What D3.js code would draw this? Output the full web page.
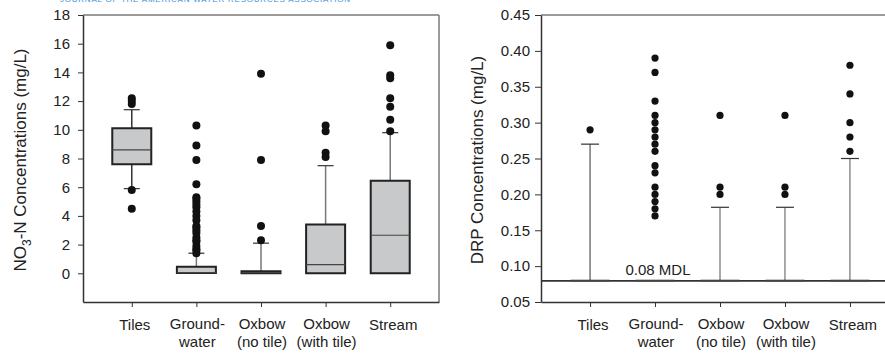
<!DOCTYPE html>
<html>
<head>
<meta charset="utf-8">
<script src="https://cdn.jsdelivr.net/npm/d3@7"></script>
<style>
  body { margin: 0; background: #fff; }
  svg { display: block; font-family: "Liberation Sans", Arial, sans-serif; }
</style>
</head>
<body>
<div class="chart"></div>
<script>
// category labels (shared by both panels)
var categories = [["Tiles"], ["Ground-", "water"], ["Oxbow", "(no tile)"], ["Oxbow", "(with tile)"], ["Stream"]];

// NO3-N panel (mg/L)
var no3Ticks = [0, 2, 4, 6, 8, 10, 12, 14, 16, 18];
var no3Low = [5.9, 0, 0, 0, 0];
var no3Q1 = [7.6, 0.02, 0, 0, 0];
var no3Median = [8.6, 0.05, 0.05, 0.6, 2.65];
var no3Q3 = [10.1, 0.45, 0.15, 3.4, 6.45];
var no3High = [11.4, 1.4, 2.1, 7.5, 9.8];
var no3Outliers = [
    [12.2, 12.0, 11.8, 5.8, 4.5],
    [10.3, 8.9, 7.9, 6.2, 5.3, 5.2, 5.0, 4.8, 4.6, 4.3, 4.0, 3.7, 3.3, 3.2, 3.0, 2.8, 2.5, 2.3, 2.2, 1.9, 1.7, 1.6, 1.4],
    [13.9, 7.9, 3.3, 2.3],
    [10.3, 9.9, 8.4, 8.1],
    [15.9, 13.8, 13.6, 12.2, 11.6, 10.7, 9.9]
];

// DRP panel (mg/L)
var drpTicks = [0.05, 0.10, 0.15, 0.20, 0.25, 0.30, 0.35, 0.40, 0.45];
var drpMDL = 0.0795;
var drpLow = [0.08, 0.08, 0.08, 0.08, 0.08];
var drpQ1 = [0.08, 0.08, 0.08, 0.08, 0.08];
var drpMedian = [0.08, 0.08, 0.08, 0.08, 0.08];
var drpQ3 = [0.08, 0.08, 0.08, 0.08, 0.08];
var drpHigh = [0.27, 0.08, 0.182, 0.182, 0.25];
var drpOutliers = [
    [0.29],
    [0.39, 0.37, 0.33, 0.31, 0.30, 0.29, 0.28, 0.27, 0.26, 0.24, 0.23, 0.21, 0.20, 0.19, 0.18, 0.17],
    [0.31, 0.21, 0.20],
    [0.31, 0.21, 0.20],
    [0.38, 0.34, 0.30, 0.28, 0.26]
];

var W = 885, H = 354;

var svg = d3.select(".chart")
    .append("svg")
    .attr("width", W)
    .attr("height", H);

// journal header, cut off by the page edge as in the scan
svg.append("text")
    .attr("x", 60)
    .attr("y", 2)
    .attr("textLength", 290)
    .attr("font-size", 8)
    .attr("fill", "#3d8fd6")
    .text("JOURNAL OF THE AMERICAN WATER RESOURCES ASSOCIATION");

function drawPanel(opt) {
    var g = svg.append("g");

    var x = d3.scalePoint()
        .domain(d3.range(categories.length))
        .range([opt.left, opt.right])
        .padding(0.755);

    var y = d3.scaleLinear()
        .domain(opt.domain)
        .range([opt.bottom, opt.top]);

    // top and right frame lines
    g.append("line")
        .attr("x1", opt.left).attr("x2", opt.right)
        .attr("y1", opt.top).attr("y2", opt.top)
        .attr("stroke", "#7a7a7a").attr("stroke-width", 1.5);
    g.append("line")
        .attr("x1", opt.right).attr("x2", opt.right)
        .attr("y1", opt.top).attr("y2", opt.bottom)
        .attr("stroke", "#7a7a7a").attr("stroke-width", 1.5);

    // y axis
    var ya = g.append("g")
        .attr("transform", "translate(" + opt.left + ",0)")
        .call(d3.axisLeft(y)
            .tickValues(opt.ticks)
            .tickFormat(opt.fmt)
            .tickSize(opt.tickSize)
            .tickSizeOuter(0)
            .tickPadding(opt.tickPad));
    ya.select(".domain").attr("stroke", "#333").attr("stroke-width", 1.5);
    ya.selectAll(".tick line").attr("stroke", "#333");
    ya.selectAll(".tick text")
        .attr("font-size", 15)
        .attr("font-family", "Liberation Sans, Arial, sans-serif")
        .attr("fill", "#222");

    // x axis
    var xa = g.append("g")
        .attr("transform", "translate(0," + opt.bottom + ")")
        .call(d3.axisBottom(x).tickSize(5).tickSizeOuter(0).tickFormat(""));
    xa.select(".domain").attr("stroke", "#333").attr("stroke-width", 1.5);
    xa.selectAll(".tick line").attr("stroke", "#333");

    categories.forEach(function (lines, i) {
        var t = g.append("text")
            .attr("text-anchor", "middle")
            .attr("font-size", 15)
            .attr("fill", "#222");
        lines.forEach(function (s, j) {
            t.append("tspan")
                .attr("x", x(i) + (lines.length === 1 ? 3 : 1))
                .attr("y", (lines.length === 1 ? 330 : 329) + j * 18)
                .text(s);
        });
    });

    // y title
    var title = g.append("text")
        .attr("transform", "translate(" + opt.titleX + "," + opt.titleY + ") rotate(-90)")
        .attr("text-anchor", "middle")
        .attr("font-size", 17)
        .attr("fill", "#222");
    opt.title.forEach(function (p) {
        var ts = title.append("tspan").text(p.t);
        if (p.sub) ts.attr("font-size", 12).attr("dy", 5);
        if (p.up) ts.attr("dy", -5);
    });

    if (opt.extra) opt.extra(g, x, y);

    // whiskers
    var half = opt.boxW / 2, cap = opt.capW / 2;
    var boxes = g.selectAll(".box")
        .data(d3.range(categories.length))
        .enter().append("g")
        .attr("class", "box");

    boxes.filter(function (i) { return opt.high[i] > opt.q3[i]; })
        .append("line")
        .attr("x1", function (i) { return x(i); })
        .attr("x2", function (i) { return x(i); })
        .attr("y1", function (i) { return y(opt.q3[i]); })
        .attr("y2", function (i) { return y(opt.high[i]); })
        .attr("stroke", function (i) { return i === 0 ? "#333" : opt.whiskerColor; })
        .attr("stroke-width", opt.whiskerW);
    boxes.filter(function (i) { return opt.high[i] > opt.q3[i]; })
        .append("line")
        .attr("x1", function (i) { return x(i) - cap; })
        .attr("x2", function (i) { return x(i) + cap; })
        .attr("y1", function (i) { return y(opt.high[i]); })
        .attr("y2", function (i) { return y(opt.high[i]); })
        .attr("stroke", "#333")
        .attr("stroke-width", 1.2);
    boxes.filter(function (i) { return opt.low[i] < opt.q1[i]; })
        .append("line")
        .attr("x1", function (i) { return x(i); })
        .attr("x2", function (i) { return x(i); })
        .attr("y1", function (i) { return y(opt.q1[i]); })
        .attr("y2", function (i) { return y(opt.low[i]); })
        .attr("stroke", "#333")
        .attr("stroke-width", opt.whiskerW);
    boxes.filter(function (i) { return opt.low[i] < opt.q1[i]; })
        .append("line")
        .attr("x1", function (i) { return x(i) - cap; })
        .attr("x2", function (i) { return x(i) + cap; })
        .attr("y1", function (i) { return y(opt.low[i]); })
        .attr("y2", function (i) { return y(opt.low[i]); })
        .attr("stroke", "#333")
        .attr("stroke-width", 1.2);

    // boxes (path so that a collapsed box still shows as a line)
    boxes.append("path")
        .attr("d", function (i) {
            var x0 = x(i) - half, x1 = x(i) + half;
            return "M" + x0 + "," + y(opt.q3[i]) + "H" + x1 + "V" + y(opt.q1[i]) + "H" + x0 + "Z";
        })
        .attr("fill", "#c8c9ca")
        .attr("stroke", "#222")
        .attr("stroke-width", opt.boxStroke);
    boxes.append("line")
        .attr("x1", function (i) { return x(i) - half; })
        .attr("x2", function (i) { return x(i) + half; })
        .attr("y1", function (i) { return y(opt.median[i]); })
        .attr("y2", function (i) { return y(opt.median[i]); })
        .attr("stroke", "#444")
        .attr("stroke-width", 1.2);

    // outliers
    boxes.selectAll("circle")
        .data(function (i) { return opt.outliers[i].map(function (v) { return { i: i, v: v }; }); })
        .enter().append("circle")
        .attr("cx", function (d) { return x(d.i); })
        .attr("cy", function (d) { return y(d.v); })
        .attr("r", opt.r)
        .attr("fill", "#111");
}

drawPanel({
    left: 83, right: 439, top: 15, bottom: 302,
    domain: [-2, 18], ticks: no3Ticks, fmt: d3.format("d"),
    tickSize: 5, tickPad: 8,
    low: no3Low, q1: no3Q1, median: no3Median, q3: no3Q3, high: no3High, outliers: no3Outliers,
    boxW: 39, capW: 16, r: 4, whiskerColor: "#777", whiskerW: 1.5, boxStroke: 2,
    titleX: 26, titleY: 160,
    title: [{ t: "NO" }, { t: "3", sub: true }, { t: "-N Concentrations (mg/L)", up: true }]
});

drawPanel({
    left: 541, right: 899, top: 15, bottom: 302,
    domain: [0.05, 0.45], ticks: drpTicks, fmt: d3.format(".2f"),
    tickSize: 6, tickPad: 5,
    low: drpLow, q1: drpQ1, median: drpMedian, q3: drpQ3, high: drpHigh, outliers: drpOutliers,
    boxW: 39, capW: 18, r: 3.6, whiskerColor: "#555", whiskerW: 1, boxStroke: 1.5,
    titleX: 483, titleY: 160,
    title: [{ t: "DRP Concentrations (mg/L)" }],
    extra: function (g, x, y) {
        g.append("line")
            .attr("x1", 541).attr("x2", 899)
            .attr("y1", y(drpMDL)).attr("y2", y(drpMDL))
            .attr("stroke", "#333")
            .attr("stroke-width", 1.6);
        g.append("text")
            .attr("x", 658)
            .attr("y", y(drpMDL) - 6)
            .attr("text-anchor", "middle")
            .attr("font-size", 15)
            .attr("fill", "#222")
            .text("0.08 MDL");
    }
});
</script>
</body>
</html>
